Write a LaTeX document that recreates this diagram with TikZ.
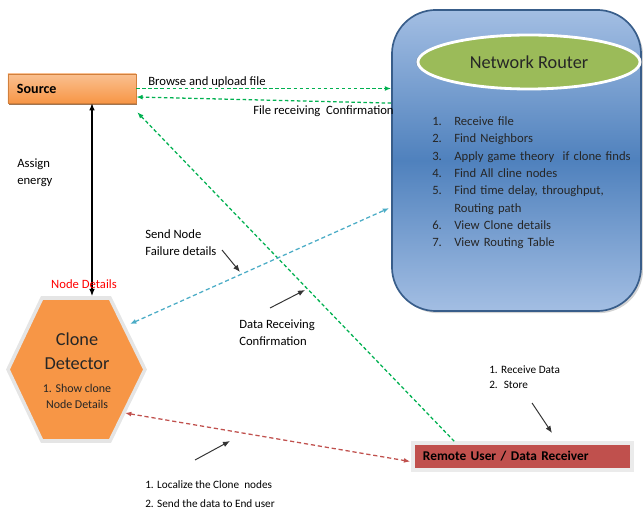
\documentclass[tikz,border=0pt]{standalone}
\usepackage{fontspec}
\setmainfont{Carlito}
\usetikzlibrary{calc,arrows.meta,shapes.geometric,shadows}
\definecolor{srcorange}{HTML}{F79646}
\definecolor{srclight}{HTML}{FAC090}
\definecolor{routerblue}{HTML}{4F81BD}
\definecolor{routerlight}{HTML}{A3BEE3}
\definecolor{routerline}{HTML}{385D8A}
\definecolor{routergreen}{HTML}{9BBB59}
\definecolor{remotered}{HTML}{C0504D}
\definecolor{linkgreen}{HTML}{00B050}
\definecolor{linkblue}{HTML}{4BACC6}
\definecolor{linkred}{HTML}{C0504D}
\def\tasknum#1{\makebox[0.55cm][l]{#1}}
\tikzset{
	txt/.style={inner sep=0pt, font=\fontsize{9}{12}\selectfont},
	small/.style={inner sep=0pt, font=\fontsize{8}{10.5}\selectfont},
	srcbox/.style={draw=srcorange!85!black, top color=srclight, bottom color=srcorange, minimum width=3.2cm, minimum height=0.725cm, inner xsep=0.225cm, text width=2.75cm, font=\fontsize{10}{12}\selectfont\bfseries, drop shadow={shadow xshift=0.6pt, shadow yshift=-1.4pt, fill=srcorange!55!black, opacity=0.8}},
	routerbox/.style={draw=routerline, line width=1.2pt, rounded corners=1.1cm, top color=routerlight, bottom color=routerlight, middle color=routerblue, minimum width=6.225cm, minimum height=7.525cm, drop shadow={shadow xshift=1.5pt, shadow yshift=-1.5pt, opacity=0.35}},
	netellipse/.style={ellipse, draw=white, line width=2pt, fill=routergreen, minimum width=5.55cm, minimum height=1.35cm, inner sep=0pt, text=black!85, font=\fontsize{13}{15}\selectfont, drop shadow={shadow xshift=0pt, shadow yshift=0pt, shadow scale=1.02, opacity=0.3}},
	tasklist/.style={inner sep=0pt, text width=5cm, align=left, text=black!85, font=\fontsize{9}{12.3}\selectfont},
	hexbox/.style={draw=black!10, line width=2.5pt, fill=srcorange},
	remotebox/.style={draw=black!8, line width=2.5pt, fill=remotered, minimum width=5.475cm, minimum height=0.675cm, inner xsep=0.25cm, text width=4.975cm, font=\fontsize{9.5}{11}\selectfont\bfseries, drop shadow={shadow xshift=1.2pt, shadow yshift=-1.2pt, opacity=0.4}},
	greenlink/.style={draw=linkgreen, line width=0.9pt, dash pattern=on 2.5pt off 1.8pt, -{Latex[length=4.5pt,width=3.5pt]}},
	bluelink/.style={draw=linkblue, line width=0.9pt, dash pattern=on 3pt off 2pt, {Latex[length=4.5pt,width=3.5pt]}-{Latex[length=4.5pt,width=3.5pt]}},
	redlink/.style={draw=linkred, line width=0.9pt, dash pattern=on 3pt off 2pt, {Latex[length=4.5pt,width=3.5pt]}-{Latex[length=4.5pt,width=3.5pt]}},
	pointer/.style={draw=black!80, line width=0.7pt, -{Latex[length=5pt,width=4pt]}}
}

\begin{document}
\begin{tikzpicture}[x=0.025cm, y=-0.025cm]
			%%%%% START %%%%%
			\useasboundingbox (0,0) rectangle (643,510);
			
			\node[routerbox] (router) at (516.5,160.5) {};
			\node[netellipse] (netr) at (529,62) {Network Router};
			\node[tasklist, anchor=north west] (tasks) at (432,116.5) {\tasknum{1.}Receive file\\
				\tasknum{2.}Find Neighbors\\
				\tasknum{3.}Apply game theory~ if clone finds\\
				\tasknum{4.}Find All cline nodes\\
				\tasknum{5.}Find time delay, throughput,\\
				\tasknum{}Routing path\\
				\tasknum{6.}View Clone details\\
				\tasknum{7.}View Routing Table};
			
			\node[srcbox] (src) at (72,88.5) {Source};
			
			\draw[hexbox] (42,298) -- (110,298) -- (145,369.5) -- (110,441) -- (42,441) -- (8,369.5) -- cycle;
			\node[txt, align=center, text=black!85, font=\fontsize{13}{17}\selectfont] (clone) at (77,371) {Clone\\Detector\\[-1pt]\fontsize{8.5}{12}\selectfont 1. Show clone\\[-5pt]\fontsize{8.5}{12}\selectfont Node Details};
			\coordinate (cdtop) at (92,296);
			\coordinate (cdne) at (130,324);
			\coordinate (cdse) at (125,413);
			
			\node[remotebox] (remote) at (522.5,456.5) {Remote User / Data Receiver};
			
			\draw[greenlink] (src.east) -- (router.west |- src.east);
			\draw[greenlink] ($(router.north west)+(0,94)$) -- ($(src.east)+(0,8.5)$);
			\draw[greenlink] ($(remote.north west)+(43,0)$) -- ($(src.south east)+(1,9)$);
			\draw[bluelink] (cdne) -- ($(router.north west)+(-2,199)$);
			\draw[redlink] (cdse) -- ($(remote.west)+(-1,5)$);
			\draw[line width=0.8pt, {Latex[length=5pt,width=4pt]}-{Latex[length=5pt,width=4pt]}] (cdtop |- src.south) -- (cdtop);
			
			\foreach \xa/\ya/\xb/\yb in {222/250/240/272, 270/308/305/290, 195/460/230/441, 532/403/552/433}
				\draw[pointer] (\xa,\ya) -- (\xb,\yb);
			
			\node[txt, anchor=west] (upload) at (148,82) {Browse and upload file};
			\node[txt, anchor=west] (confirm) at (253,111) {File receiving~ Confirmation};
			\node[txt, anchor=west, align=left] (energy) at (17,172.5) {Assign\\energy};
			\node[txt, anchor=west, align=left] (failure) at (145,242.5) {Send Node\\Failure details};
			\node[txt, text=red] (details) at (84,284) {Node Details};
			\node[txt, anchor=west, align=left] (datarx) at (239,332.5) {Data Receiving\\Confirmation};
			\node[small, anchor=west, align=left] (store) at (489,377) {1. Receive Data\\2.~ Store};
			\node[small, anchor=west, align=left, font=\fontsize{8}{13}\selectfont] (localize) at (145,494) {1. Localize the Clone~ nodes\\2. Send the data to End user};
			
			%%%%% END %%%%%
\end{tikzpicture}
\end{document}
